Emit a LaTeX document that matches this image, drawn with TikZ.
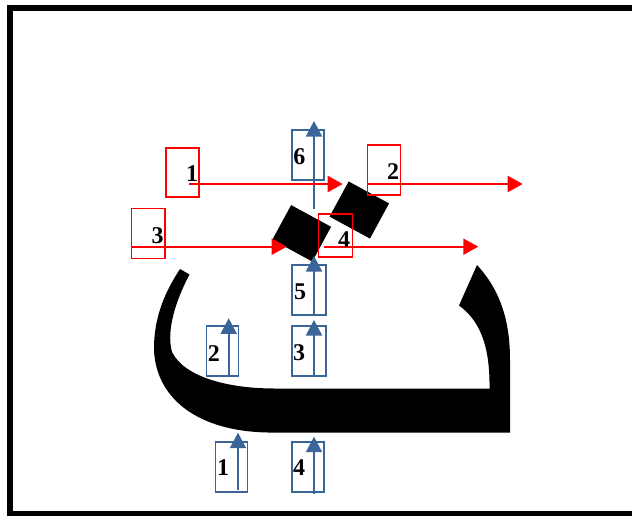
\documentclass[tikz,border=0pt]{standalone}
\usepackage{fontspec}
\setmainfont{Liberation Serif}
\usetikzlibrary{arrows.meta}
\definecolor{redline}{RGB}{255,0,0}
\definecolor{blueline}{RGB}{58,101,152}
\begin{document}
\begin{tikzpicture}[x=1pt,y=-1pt,
  rbox/.style={draw=redline,line width=1.5pt,inner sep=0pt,rectangle},
  bbox/.style={draw=blueline,line width=1.8pt,inner sep=0pt,rectangle,minimum width=32,minimum height=50},
  lbl/.style={inner sep=0pt,font=\fontsize{24}{24}\selectfont\bfseries},
  rarrow/.style={draw=redline,line width=2pt,-{Triangle[length=15pt,width=16pt]}},
  barrow/.style={draw=blueline,line width=2pt,-{Triangle[length=15.5pt,width=16pt]}},
  block/.style={fill=black,inner sep=0pt,rectangle,rotate=-28.5}]
\useasboundingbox (0,0) rectangle (632,515);
% outer frame, running off the right and bottom edges
\begin{scope}
  \clip (0,0) rectangle (632,515);
  \draw[line width=6pt] (10,8) rectangle (645,513.5);
\end{scope}
% dotless letter body
\fill[black] (180,269) -- (189.5,274.5)
  .. controls (176,300) and (166,330) .. (172,352)
  .. controls (185,378) and (230,388.5) .. (275,388.5)
  -- (489.5,388.5)
  .. controls (490,350) and (482,322) .. (459,305.5)
  -- (477,265)
  .. controls (500,290) and (510,320) .. (510,360)
  -- (510,432.5) -- (268,432.5)
  .. controls (190,431) and (153,392) .. (154,345)
  .. controls (155,315) and (165,292) .. (180,269) -- cycle;
% tilted blocks
\node[block,minimum width=45.5,minimum height=39.5] (blkA) at (301.7,233.3) {};
\node[block,minimum width=46,minimum height=40] (blkB) at (359.3,210) {};
% blue vertical markers
\node[bbox] (b6) at (307.8,155.2) {};
\node[bbox,minimum width=33.4] (b5) at (309,290) {};
\node[bbox,minimum width=33.4] (b3) at (309,351.3) {};
\node[bbox] (b2) at (222.5,351.3) {};
\node[bbox] (b1) at (231.5,466.7) {};
\node[bbox] (b4) at (308.2,466.7) {};
\coordinate (b6s) at (314,209); \coordinate (b6e) at (314,121);
\coordinate (b5s) at (314,315); \coordinate (b5e) at (314,256);
\coordinate (b3s) at (314,376.5); \coordinate (b3e) at (314,320);
\coordinate (b2s) at (228.7,375); \coordinate (b2e) at (228.7,318.3);
\coordinate (b1s) at (238,490); \coordinate (b1e) at (238,432.7);
\coordinate (b4s) at (314,493.5); \coordinate (b4e) at (314,436.7);
\foreach \a in {b6,b5,b3,b2,b1,b4} \draw[barrow] (\a s) -- (\a e);
\node[lbl] (t6) at (299.3,156.7) {6};
\node[lbl] (t5) at (300,291.3) {5};
\node[lbl] (t3) at (299,352.8) {3};
\node[lbl] (t2) at (213.8,353.3) {2};
\node[lbl] (t1) at (223,467.5) {1};
\node[lbl] (t4) at (299.2,468) {4};
% red horizontal markers
\node[rbox,minimum width=33,minimum height=49] (r1) at (182.5,172.5) {};
\node[rbox,minimum width=33.4,minimum height=50.3] (r2) at (384,169.9) {};
\node[rbox,minimum width=33.3,minimum height=49.6] (r3) at (148.3,233.5) {};
\node[rbox,minimum width=34,minimum height=42.7] (r4) at (335.3,235.4) {};
\coordinate (r1s) at (189,184); \coordinate (r1e) at (342.7,184);
\coordinate (r2s) at (367.3,184); \coordinate (r2e) at (522.7,184);
\coordinate (r3s) at (131.7,246.7); \coordinate (r3e) at (286.7,246.7);
\coordinate (r4s) at (324,246.7); \coordinate (r4e) at (478.3,246.7);
\foreach \a in {r1,r2,r3,r4} \draw[rarrow] (\a s) -- (\a e);
\node[lbl] (u1) at (192,174) {1};
\node[lbl] (u2) at (393,171.7) {2};
\node[lbl] (u3) at (157.5,235.3) {3};
\node[lbl] (u4) at (344,239.5) {4};
\end{tikzpicture}
\end{document}
